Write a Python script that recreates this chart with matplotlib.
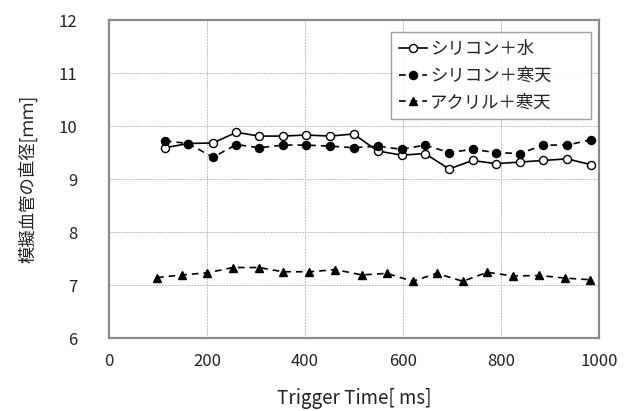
import matplotlib
matplotlib.use("Agg")
import matplotlib.pyplot as plt

plt.rcParams['font.family'] = ['Noto Sans CJK JP', 'DejaVu Sans']

# -----------------------------
# DATA
# -----------------------------
t_circle = [114, 162, 212, 260, 307, 355, 402, 452, 499, 548, 597, 645, 694, 742, 789, 839, 886, 935, 984]
si_water = [9.59, 9.67, 9.68, 9.88, 9.81, 9.81, 9.83, 9.81, 9.85, 9.53, 9.45, 9.48, 9.19, 9.35, 9.29, 9.32, 9.35, 9.38, 9.27]
si_agar = [9.72, 9.67, 9.41, 9.65, 9.59, 9.64, 9.64, 9.62, 9.59, 9.62, 9.56, 9.64, 9.50, 9.56, 9.50, 9.48, 9.64, 9.64, 9.74]

t_tri = [98, 148, 201, 253, 306, 355, 409, 462, 516, 567, 620, 669, 722, 772, 825, 878, 931, 982]
acryl_agar = [7.14, 7.19, 7.23, 7.33, 7.33, 7.25, 7.25, 7.29, 7.19, 7.22, 7.07, 7.22, 7.07, 7.24, 7.17, 7.18, 7.13, 7.10]

labels = ["シリコン＋水", "シリコン＋寒天", "アクリル＋寒天"]
xticks = [0, 200, 400, 600, 800, 1000]
yticks = [6, 7, 8, 9, 10, 11, 12]

# -----------------------------
# PLOT
# -----------------------------
fig = plt.figure(figsize=(6.36, 4.11), dpi=100)
ax = fig.add_axes([0.1714, 0.1776, 0.7704, 0.7737])

ax.plot(t_circle, si_water, "-", color="black", lw=1.2, marker="o", ms=5.8,
        mfc="white", mec="black", mew=1.0, label=labels[0], zorder=3)
ax.plot(t_circle, si_agar, "--", color="black", lw=1.2, marker="o", ms=5.8,
        mfc="black", mec="black", label=labels[1], dashes=(4, 3), zorder=4)
ax.plot(t_tri, acryl_agar, "--", color="black", lw=1.2, marker="^", ms=6,
        mfc="black", mec="black", label=labels[2], dashes=(4, 3), zorder=3)

ax.set_xlim(0, 1000)
ax.set_ylim(6, 12)
ax.set_xticks(xticks)
ax.set_yticks(yticks)
ax.tick_params(length=0, labelsize=12, labelcolor="#222222")
ax.tick_params(axis="y", pad=23)
ax.tick_params(axis="x", pad=11)

ax.grid(True, color="#bdbdbd", lw=0.7, linestyle=(0, (2, 1)))
ax.set_axisbelow(True)
for s in ax.spines.values():
    s.set_color("#8a8a8a")
    s.set_linewidth(1.6)

ax.set_xlabel("Trigger Time[ ms]", fontsize=13.5, color="#222222", labelpad=13)
ax.set_ylabel("模擬血管の直径[ｍｍ]", fontsize=12.5, color="#222222", labelpad=15)

# legend box spans roughly x 391..591 px, top at 32 px
leg = ax.legend(loc="upper left", bbox_to_anchor=(0.5755, 0.962, 0.408, 0.0), mode="expand",
                fontsize=12.5, frameon=True, fancybox=False, handlelength=1.6,
                handletextpad=0.2, labelspacing=0.5, borderpad=0.45, borderaxespad=0)
leg.get_frame().set_edgecolor("#8a8a8a")
leg.get_frame().set_linewidth(1.0)
for txt in leg.get_texts():
    txt.set_color("#222222")

fig.savefig("out.png", dpi=100)
